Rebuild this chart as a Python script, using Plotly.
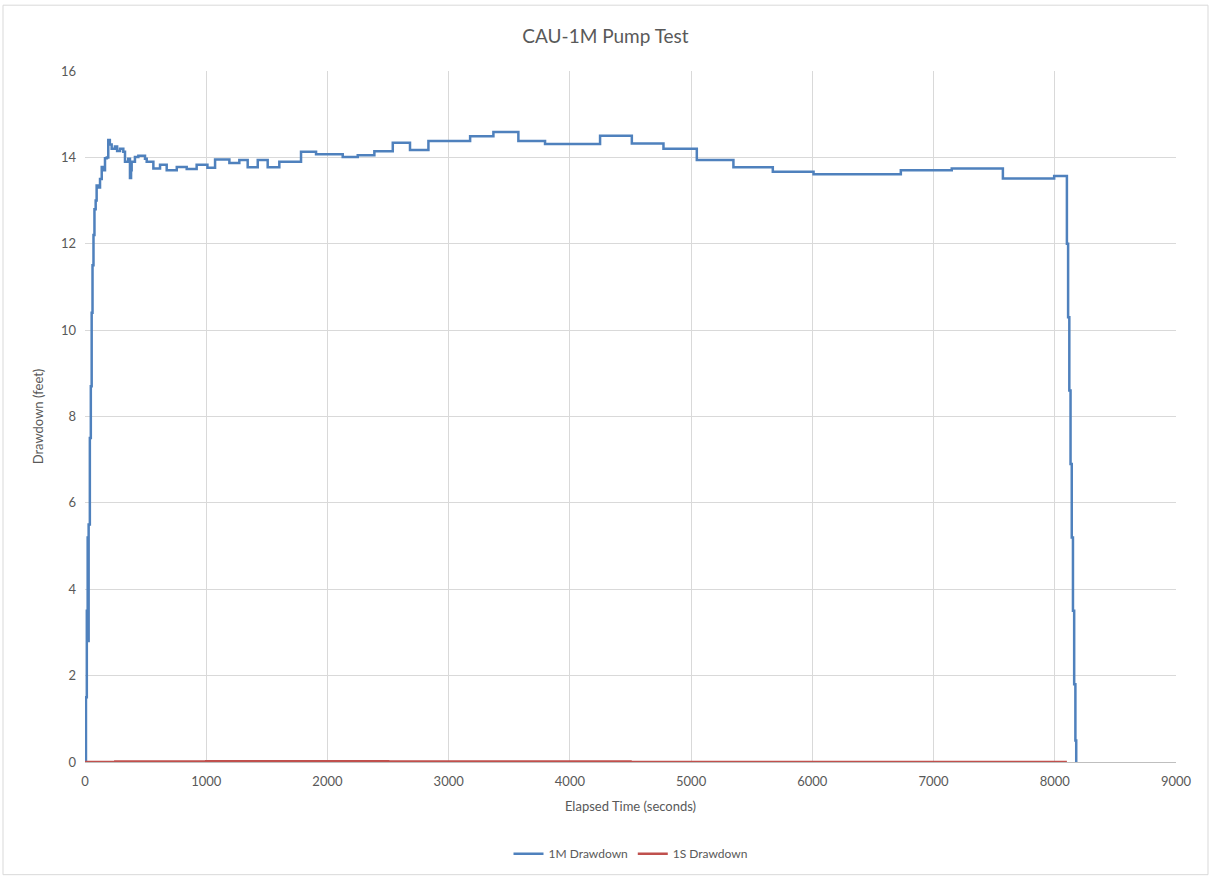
import plotly.graph_objects as go

# 1M drawdown (feet) vs elapsed time (seconds) (step data)
time_1m = [0, 8, 15, 22, 25, 30, 40, 48, 55, 62, 70, 78, 88, 96, 110, 124, 138, 150,
           165, 180, 192, 205, 220, 247, 265, 289, 316, 330, 357, 371, 380, 385, 412,
           440, 495, 509, 564, 619, 674, 757, 839, 921, 1010, 1073, 1191, 1273, 1342,
           1425, 1507, 1603, 1782, 1906, 2126, 2250, 2387, 2539, 2681, 2833, 3177,
           3369, 3575, 3795, 4249, 4511, 4772, 5047, 5349, 5674, 6010, 6730, 7150,
           7572, 7995, 8100, 8110, 8120, 8130, 8140, 8150, 8160, 8170, 8177]
draw_1m = [0.0, 1.5, 3.5, 5.2, 2.8, 5.5, 7.5, 8.7, 10.4, 11.5, 12.2, 12.8, 13.0, 13.35,
           13.3, 13.5, 13.78, 13.7, 13.98, 14.0, 14.4, 14.3, 14.2, 14.25, 14.15, 14.2,
           14.13, 13.9, 13.97, 13.52, 13.7, 13.9, 14.01, 14.04, 13.97, 13.9, 13.74,
           13.83, 13.7, 13.78, 13.73, 13.83, 13.76, 13.95, 13.87, 13.94, 13.77, 13.94,
           13.77, 13.9, 14.13, 14.07, 14.01, 14.05, 14.14, 14.34, 14.17, 14.38, 14.49,
           14.59, 14.38, 14.31, 14.5, 14.32, 14.2, 13.94, 13.77, 13.67, 13.61, 13.7,
           13.74, 13.51, 13.57, 12.0, 10.3, 8.6, 6.9, 5.2, 3.5, 1.8, 0.5, 0.0]

# 1S drawdown (feet)
time_1s = [0, 250, 500, 1000, 1500, 2000, 2500, 3000, 3500, 4000, 4500, 5000, 5500,
           6000, 6500, 7000, 7500, 8100]
draw_1s = [0.0, 0.01, 0.01, 0.02, 0.02, 0.02, 0.01, 0.01, 0.01, 0.01, 0.0, 0.0,
           0.0, 0.0, 0.0, 0.0, 0.0, 0.0]

x_ticks = list(range(0, 9001, 1000))
y_ticks = list(range(0, 17, 2))

FONT = "Lato, 'Open Sans', sans-serif"
GRAY = "#595959"

T, B = 71, 116
PH = 880 - T - B

fig = go.Figure()
fig.add_trace(go.Scatter(x=time_1m, y=draw_1m, mode="lines", name="1M Drawdown",
                         line=dict(color="#4f81bd", width=2.5, shape="hv")))
fig.add_trace(go.Scatter(x=time_1s, y=draw_1s, mode="lines", name="1S Drawdown",
                         line=dict(color="#c0504d", width=2.5, shape="hv")))

fig.update_layout(
    width=1211, height=880,
    margin=dict(l=85, r=35, t=T, b=B),
    paper_bgcolor="white", plot_bgcolor="white",
    font=dict(family=FONT, color=GRAY, size=13),
    title=dict(text="CAU-1M Pump Test", x=0.5, xanchor="center", y=1 - 36/880,
               yanchor="middle", font=dict(size=19, color=GRAY, family=FONT)),
    xaxis=dict(range=[0, 9000], tickvals=x_ticks, showgrid=True, gridcolor="#d9d9d9",
               gridwidth=1, zeroline=False, showline=True, linecolor="#bfbfbf",
               ticks="", ticklabelstandoff=7, tickfont=dict(size=13, color=GRAY),
               title=dict(text="Elapsed Time (seconds)", standoff=14,
                          font=dict(size=13, color=GRAY))),
    yaxis=dict(range=[0, 16], tickvals=y_ticks, showgrid=True, gridcolor="#d9d9d9",
               gridwidth=1, zeroline=False, showline=False, ticks="",
               ticklabelstandoff=8, tickfont=dict(size=13, color=GRAY),
               title=dict(text="Drawdown (feet)", standoff=14,
                          font=dict(size=13, color=GRAY))),
    legend=dict(orientation="h", x=0.5, xanchor="center", y=-(856 - (880 - B)) / PH,
                yanchor="middle", font=dict(size=12, color=GRAY), bgcolor="rgba(0,0,0,0)"),
    showlegend=True,
)

# outer chart border
fig.add_shape(type="rect", xref="paper", yref="paper",
              x0=(3 - 85) / 1091, x1=(1208 - 85) / 1091,
              y0=-(877 - (880 - B)) / PH, y1=(880 - B - 5) / PH,
              line=dict(color="#d9d9d9", width=1), fillcolor="rgba(0,0,0,0)", layer="below")

fig.write_html("out.html", config={"displayModeBar": False},
               post_script="document.body.style.margin='0';")
